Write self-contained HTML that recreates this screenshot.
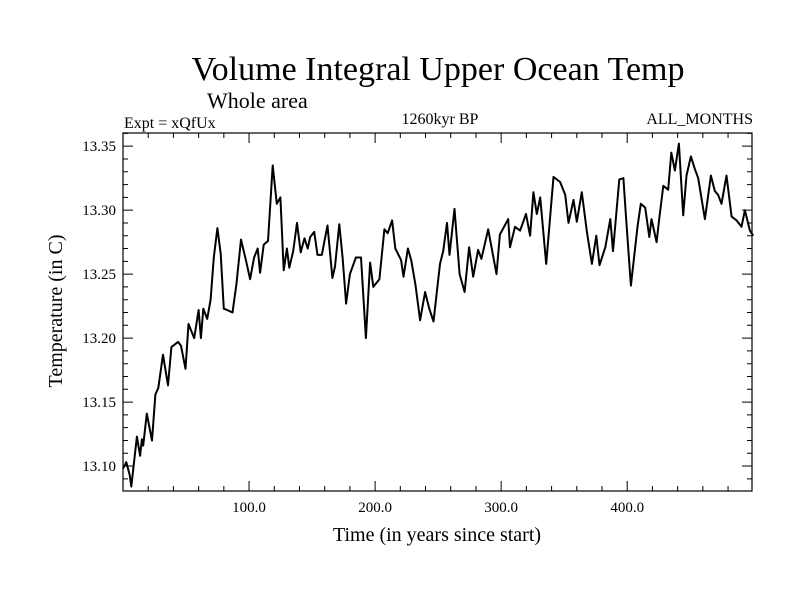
<!DOCTYPE html>
<html><head><meta charset="utf-8"><style>
body{margin:0;background:#fff}
svg{display:block;font-family:"Liberation Serif",serif}
</style></head><body>
<svg id="c" width="800" height="600" xmlns="http://www.w3.org/2000/svg">
<text x="438" y="80" font-size="34" text-anchor="middle">Volume Integral Upper Ocean Temp</text>
<text x="207" y="108" font-size="22">Whole area</text>
<text x="124" y="128" font-size="16">Expt = xQfUx</text>
<text x="440" y="124" font-size="16" text-anchor="middle">1260kyr BP</text>
<text x="753" y="124" font-size="16" text-anchor="end">ALL_MONTHS</text>
<text x="437" y="541" font-size="20" text-anchor="middle">Time (in years since start)</text>
<text transform="translate(62,311) rotate(-90)" font-size="20" text-anchor="middle">Temperature (in C)</text>
<g id="ax"></g>
<path id="ln" fill="none" stroke="#000" stroke-width="2" stroke-linejoin="round"/>
</svg>
<script>
const years=[0,2.6,5.3,6.6,11,13.6,15,16,18.9,23,25.7,28,31.7,35.7,38.4,43.7,46,49.6,52,56.5,60,61.8,63.7,66.8,69.5,72,74.9,77.5,80,82.6,86.9,90,93.6,97.5,100.8,104,106.9,108.8,111.6,115,118.8,122,124.9,127.5,130,131.9,135,138,141,144,146.5,148.5,151.7,154.3,157.7,162.2,166.1,168.2,171.6,174.3,177,180,184.8,188.8,192.7,196,198.6,203.4,207.4,210,213.5,216,220.6,222.5,226,228.6,232,235.7,239.7,243,246.3,251.5,254,257,259,263,267,271,274.6,277.8,281.7,284.3,289.7,296.3,299,305.6,307,311,315,319.7,323,325.6,328.3,331,335.7,341.5,346.8,350.8,353.4,357.4,360,364,368,372,375.5,378,382.6,386.6,388.7,393.7,397,398.9,402.9,408.2,410.8,414.3,417.5,419.3,423.3,425.4,428.6,432.5,435,437.8,441,444.4,447,450.5,453.7,456.3,461.6,466.4,469.5,472.1,474.8,478.8,482.8,486.8,490.7,493.4,497.3,500];
const temps=[13.098,13.103,13.093,13.084,13.123,13.108,13.121,13.116,13.141,13.12,13.156,13.161,13.187,13.163,13.193,13.197,13.194,13.176,13.211,13.2,13.222,13.2,13.223,13.215,13.23,13.263,13.286,13.266,13.223,13.222,13.22,13.242,13.277,13.261,13.246,13.263,13.27,13.251,13.273,13.276,13.335,13.305,13.31,13.253,13.27,13.255,13.268,13.29,13.267,13.278,13.27,13.279,13.283,13.265,13.265,13.288,13.247,13.256,13.289,13.262,13.227,13.25,13.263,13.263,13.2,13.259,13.24,13.246,13.285,13.282,13.292,13.27,13.261,13.248,13.27,13.261,13.242,13.214,13.236,13.223,13.213,13.258,13.268,13.29,13.265,13.301,13.25,13.236,13.271,13.248,13.269,13.262,13.285,13.25,13.281,13.293,13.271,13.287,13.284,13.297,13.28,13.314,13.297,13.31,13.258,13.326,13.322,13.312,13.29,13.308,13.291,13.314,13.283,13.258,13.28,13.257,13.271,13.293,13.268,13.324,13.325,13.297,13.241,13.287,13.305,13.302,13.279,13.293,13.275,13.293,13.319,13.316,13.345,13.331,13.352,13.296,13.327,13.342,13.332,13.325,13.293,13.327,13.315,13.312,13.305,13.327,13.295,13.292,13.287,13.3,13.284,13.28];
const xTicks=[100,200,300,400];
const xTickLabels=["100.0","200.0","300.0","400.0"];
const yTicks=[13.10,13.15,13.20,13.25,13.30,13.35];
const yTickLabels=["13.10","13.15","13.20","13.25","13.30","13.35"];
const L=123,R=752,T=133,B=491,x0=0,x1=499,y0=13.0805,y1=13.3603;
const sx=v=>L+(v-x0)/(x1-x0)*(R-L);
const sy=v=>B-(v-y0)/(y1-y0)*(B-T);
const NS="http://www.w3.org/2000/svg";
const ax=document.getElementById('ax');
function mk(t,a){const e=document.createElementNS(NS,t);for(const k in a)e.setAttribute(k,a[k]);ax.appendChild(e);return e;}
const fr=mk('rect',{x:L,y:T,width:R-L,height:B-T,fill:'none',stroke:'#000','stroke-width':1.2});


let d='';
for(let v=20;v<x1;v+=20){const X=sx(v);const len=v%100===0?10:5;d+=`M${X} ${B}v${-len}M${X} ${T}v${len}`;}
for(let i=0;i<=28;i++){const v=13.09+i*0.01;if(v<y0||v>y1)continue;const Y=sy(v);const len=(Math.round(v*100)%5===0)?10:5;d+=`M${L} ${Y}h${len}M${R} ${Y}h${-len}`;}
const tk=mk('path',{d:d,stroke:'#000','stroke-width':1,fill:'none'});


xTicks.forEach((v,i)=>{const t=mk('text',{x:sx(v),y:512,'font-size':15,'text-anchor':'middle'});t.textContent=xTickLabels[i];

});
yTicks.forEach((v,i)=>{const t=mk('text',{x:116,y:sy(v)+5,'font-size':15,'text-anchor':'end'});t.textContent=yTickLabels[i];

});
document.getElementById('ln').setAttribute('d',years.map((y,i)=>(i?'L':'M')+sx(y).toFixed(1)+' '+sy(temps[i]).toFixed(1)).join(''));
</script>
</body></html>
